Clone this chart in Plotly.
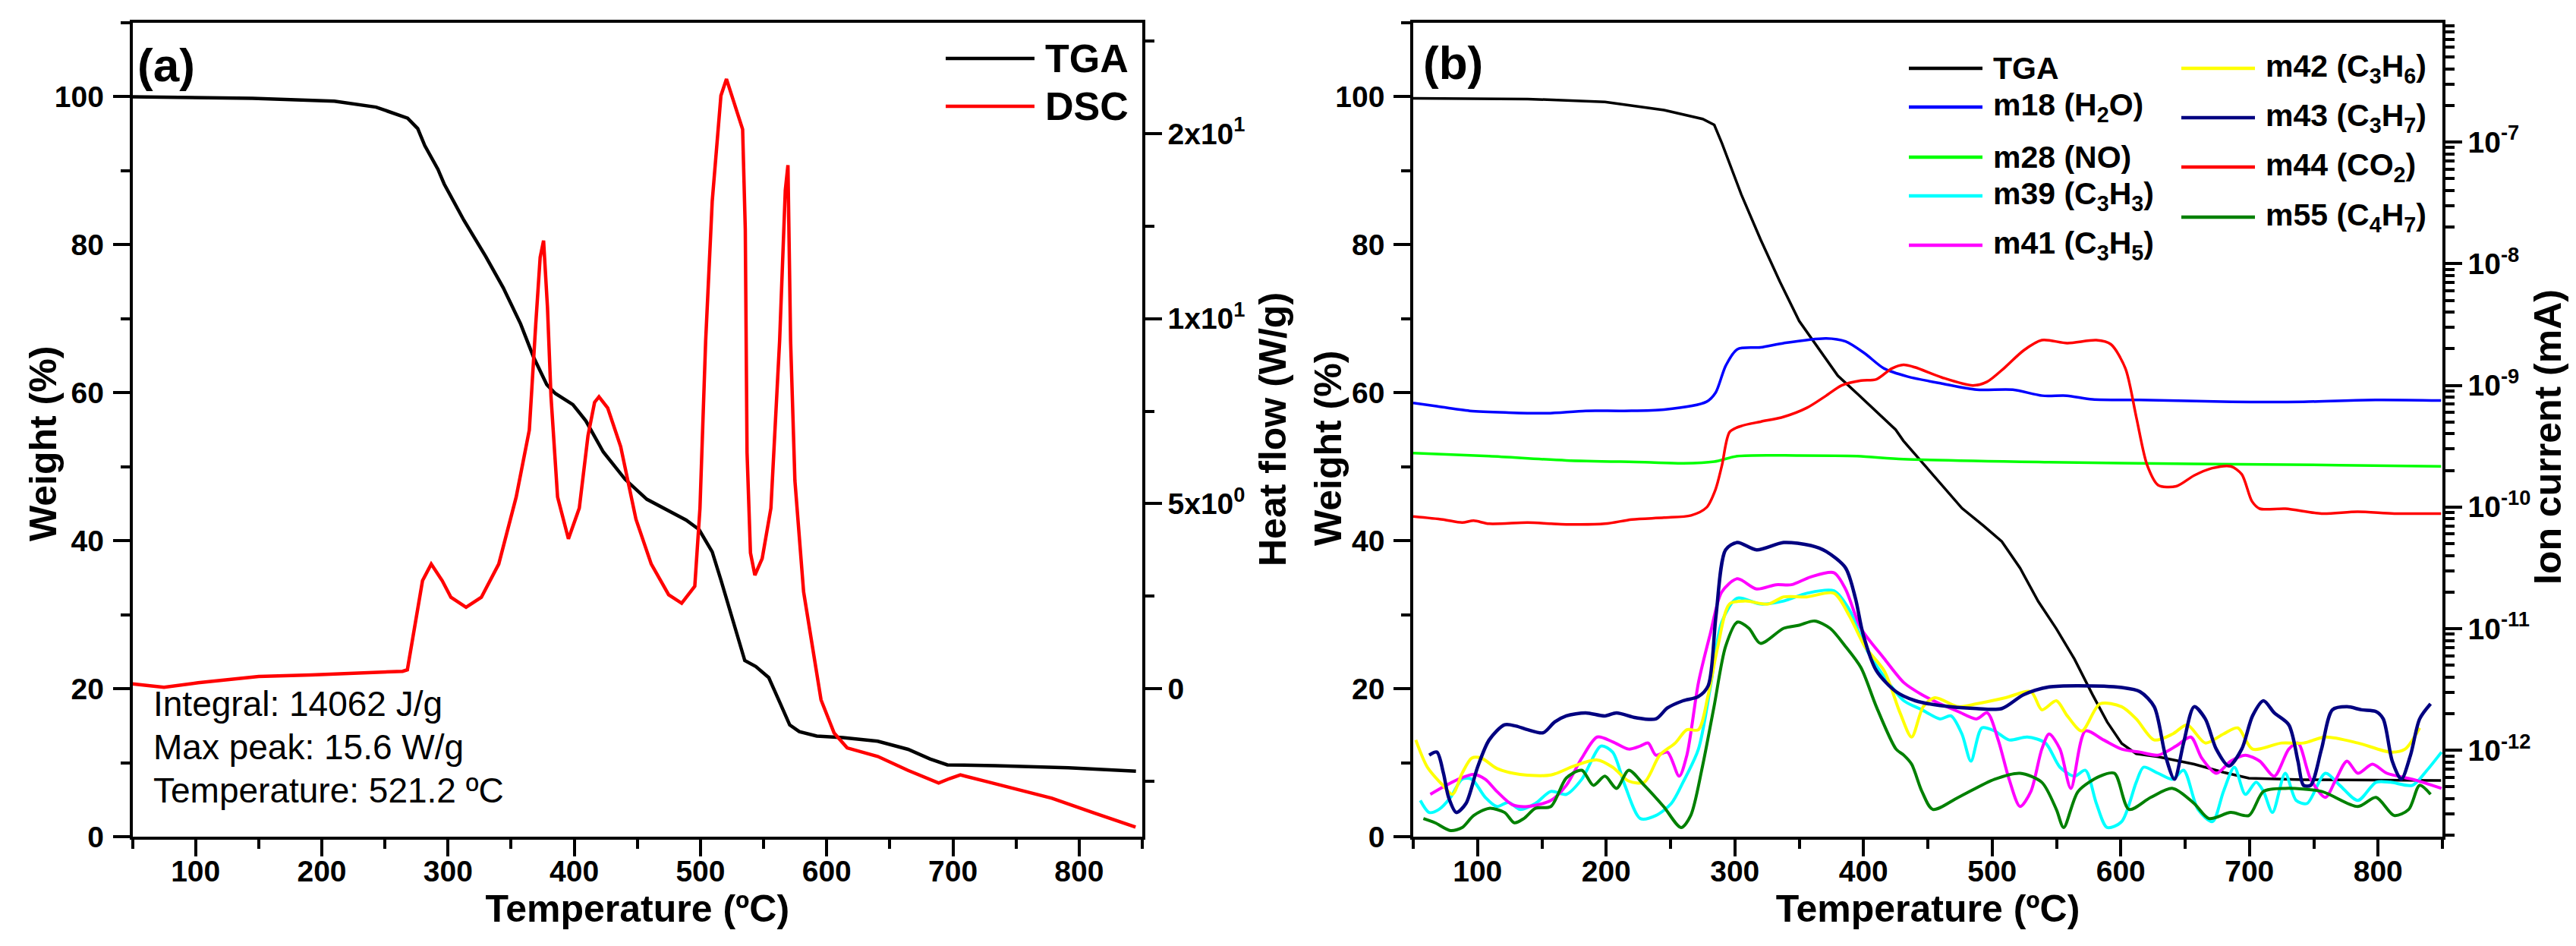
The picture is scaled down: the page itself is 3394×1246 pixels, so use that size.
import plotly.graph_objects as go

W, H = 3394, 1246
FONT = "Liberation Sans, Arial, sans-serif"

# ---------------- panel (a): TGA / DSC ----------------
tga_a_temp = [50, 145, 210, 243, 268, 276, 281.6, 292, 297, 312.6,
              329.9, 343.7, 357.5, 367.8, 378.2, 385, 398.9, 409.2, 423, 440.3,
              457.5, 474.8, 488.6, 498.9, 509.3, 516.2, 526.5, 535.1, 543.8, 554.1,
              562.7, 570.7, 578.3, 592.1, 612.8, 640.4, 664.5, 681.8, 695.6, 733.5,
              791.5, 845]
tga_a_weight = [100.0, 99.8, 99.4, 98.6, 97.1, 95.7, 93.4, 90.2, 88.2, 83.3,
                78.4, 74.2, 69.3, 64.8, 61.1, 59.9, 58.4, 56.2, 52.0, 48.3,
                45.6, 44.1, 42.8, 41.5, 38.5, 34.7, 28.7, 23.8, 23.0, 21.5,
                18.2, 15.1, 14.2, 13.6, 13.4, 12.9, 11.8, 10.5, 9.7, 9.6,
                9.3, 8.86]

dsc_temp = [50, 75, 102, 150, 191.5, 243, 264, 267.8, 274.7, 279.8,
            286.7, 295.4, 302.3, 314.3, 326.4, 340.2, 354, 364.4, 369.5, 373,
            375.7, 378.8, 381.6, 386.8, 395.4, 404, 410.9, 416.1, 419.6, 426.5,
            436.8, 448.9, 461, 474.8, 485.1, 495.5, 499.6, 504.1, 509.3, 516.2,
            520.6, 526.5, 533.4, 535.5, 536.9, 539.6, 543.1, 548.9, 555.8, 562.7,
            567.2, 569.3, 571.4, 574.8, 581.7, 595.5, 605.9, 616.2, 640.4, 664.5,
            688.7, 697.3, 705.9, 726.6, 750.8, 778.4, 812, 844.7]
dsc_heat = [0.13, 0.04, 0.16, 0.33, 0.37, 0.43, 0.47, 0.51, 1.86, 2.92,
            3.37, 2.92, 2.47, 2.20, 2.47, 3.37, 5.18, 6.99, 9.85, 11.66,
            12.11, 10.30, 7.89, 5.18, 4.05, 4.88, 6.84, 7.74, 7.89, 7.59,
            6.54, 4.58, 3.37, 2.54, 2.31, 2.77, 4.88, 9.40, 13.17, 16.03,
            16.48, 15.88, 15.12, 12.41, 6.38, 3.67, 3.07, 3.52, 4.88, 9.40,
            13.47, 14.15, 9.40, 5.63, 2.62, -0.30, -1.20, -1.60, -1.83, -2.21,
            -2.55, -2.43, -2.33, -2.51, -2.73, -2.96, -3.36, -3.74]

dsc_notes = ["Integral: 14062 J/g", "Max peak: 15.6 W/g", "Temperature: 521.2 ºC"]

# ---------------- panel (b): TGA + MS ion currents ----------------
tga_b_temp = [50, 139, 199, 245, 275, 284, 290, 305, 320, 335,
              350, 365, 380, 395, 410, 425, 431, 448, 459.5, 476.5,
              493.4, 507.5, 521.7, 535.8, 549.9, 564, 578, 589.4, 600.7, 612,
              629, 657, 679.8, 699.6, 742, 849]
tga_b_weight = [99.8, 99.7, 99.3, 98.2, 97.0, 96.2, 93.7, 86.8, 80.7, 75.0,
                69.7, 66.0, 62.3, 59.9, 57.5, 55.0, 53.5, 50.1, 47.7, 44.4,
                42.0, 39.9, 36.3, 31.8, 28.1, 24.0, 19.2, 15.5, 12.6, 11.2,
                10.8, 9.8, 8.7, 7.9, 7.7, 7.6]

# ion currents, stored as log10 of the current in mA
m18_temp = [50, 67, 94, 124, 154, 184, 214, 245, 278, 285, 293, 302, 320, 338, 371,
            386, 401, 416, 434, 461, 488, 516, 539, 558, 578, 615, 686, 742, 798, 849]
m18_log = [-9.145, -9.170, -9.210, -9.224, -9.229, -9.210, -9.210, -9.200, -9.135, -9.061,
           -8.837, -8.703, -8.688, -8.653, -8.614, -8.639, -8.738, -8.862, -8.927, -8.986,
           -9.036, -9.036, -9.085, -9.085, -9.115, -9.120, -9.135, -9.135, -9.120, -9.125]

m28_temp = [50, 109, 169, 230, 260, 284, 302, 350, 395, 431, 544, 657, 770, 849]
m28_log = [-9.557, -9.582, -9.617, -9.632, -9.641, -9.627, -9.582, -9.577, -9.582, -9.607,
           -9.632, -9.646, -9.656, -9.666]

m39_temp = [55.5, 62.4, 70, 79, 88, 95.5, 106, 115, 124, 133,
            145, 157, 169, 181, 196, 205, 214.5, 226.5, 238.6, 250.6,
            259.7, 271.7, 280.8, 289.8, 301.9, 319.9, 338, 356, 377, 389.2,
            401, 416, 431.4, 445.4, 459.5, 468, 476.5, 483.5, 492, 501.9,
            513.2, 527.3, 541.4, 552.7, 564, 572.5, 581, 589.4, 600.7, 612,
            617.7, 629, 640.3, 648.8, 660, 671.3, 679.8, 688.3, 696.8, 705.2,
            710.9, 717.9, 727.8, 736.3, 744.8, 759, 770.2, 784.3, 798.4, 809.7,
            826.7, 838, 849.3]
m39_log = [-12.412, -12.511, -12.486, -12.387, -12.238, -12.238, -12.387, -12.462, -12.427, -12.486,
           -12.437, -12.338, -12.362, -12.238, -11.965, -12.015, -12.288, -12.561, -12.536, -12.437,
           -12.263, -11.990, -11.493, -10.947, -10.749, -10.798, -10.773, -10.709, -10.689, -10.848,
           -11.146, -11.394, -11.593, -11.667, -11.742, -11.717, -11.866, -12.089, -11.816, -11.841,
           -11.915, -11.891, -11.940, -12.139, -12.213, -12.164, -12.437, -12.635, -12.586, -12.263,
           -12.139, -12.189, -12.238, -12.164, -12.486, -12.586, -12.338, -12.139, -12.362, -12.263,
           -12.338, -12.511, -12.189, -12.412, -12.437, -12.189, -12.288, -12.412, -12.263, -12.263,
           -12.288, -12.164, -12.015]

m41_temp = [63.3, 73, 85, 97, 106, 115, 127, 139, 157, 169,
            181, 193, 205, 217.5, 226.5, 232.6, 238.6, 247.6, 256.7, 262.7,
            271.7, 280.8, 289.8, 301.9, 316.9, 332, 344, 359, 377, 386,
            398, 416, 431.4, 445.4, 459.5, 473.7, 487.8, 496.2, 504.7, 513.2,
            521.7, 530.1, 538.6, 544.3, 552.7, 561.2, 572.5, 586.6, 600.7, 614.9,
            629, 643.1, 654.4, 662.9, 674.2, 685.5, 696.8, 708, 719.3, 730.6,
            737.7, 747.6, 759, 767.3, 775.8, 784.3, 795.6, 806.9, 826.7, 849.3]
m41_log = [-12.362, -12.303, -12.238, -12.198, -12.238, -12.338, -12.447, -12.462, -12.412, -12.288,
           -12.064, -11.891, -11.930, -11.990, -11.965, -11.940, -12.040, -12.015, -12.213, -12.040,
           -11.444, -11.047, -10.699, -10.590, -10.674, -10.639, -10.639, -10.575, -10.540, -10.674,
           -10.997, -11.245, -11.444, -11.543, -11.618, -11.682, -11.742, -11.692, -11.915, -12.238,
           -12.462, -12.338, -11.990, -11.866, -11.990, -12.313, -11.841, -11.915, -11.990, -12.015,
           -12.040, -11.965, -11.891, -12.064, -12.189, -12.089, -12.040, -12.089, -12.213, -11.990,
           -11.940, -12.238, -12.387, -12.238, -12.089, -12.189, -12.114, -12.189, -12.238, -12.313]

m42_temp = [52, 61, 73, 80.5, 88, 95.5, 103, 115, 133, 157,
            175, 193, 205, 217.5, 229.6, 241.6, 253.7, 262.7, 271.7, 279.3,
            286.8, 295.8, 307.9, 325.9, 338, 356, 377, 389.2, 401, 416,
            428.4, 437.4, 446.4, 455.5, 473.7, 487.8, 510.4, 530.1, 538.6, 549.9,
            558.4, 569.7, 583.8, 600.7, 612, 626, 640.3, 651.6, 665.7, 679.8,
            691, 702.4, 725, 742, 759, 784.3, 809.7, 821, 832.3]
m42_log = [-11.915, -12.139, -12.288, -12.362, -12.189, -12.064, -12.064, -12.149, -12.198, -12.203,
           -12.129, -12.079, -12.139, -12.253, -12.263, -12.040, -11.940, -11.831, -11.831, -11.543,
           -11.146, -10.798, -10.773, -10.798, -10.739, -10.739, -10.709, -10.898, -11.146, -11.345,
           -11.692, -11.891, -11.642, -11.568, -11.642, -11.618, -11.568, -11.518, -11.667, -11.593,
           -11.717, -11.841, -11.618, -11.642, -11.742, -11.915, -11.866, -11.791, -11.940, -11.866,
           -11.816, -11.990, -11.940, -11.940, -11.891, -11.940, -12.015, -11.990, -11.816]

m43_temp = [62.4, 68.4, 73.5, 77.5, 83.5, 91, 100, 109, 121, 130,
            139, 151, 160, 169, 184, 199, 208, 223, 238.6, 247.6,
            259.7, 271.7, 279.3, 285.3, 292.8, 301.9, 316.9, 338, 359, 371,
            386, 393.7, 399.7, 410, 425.3, 440.4, 459.5, 487.8, 507.5, 524.5,
            544.3, 566.8, 600.7, 614.9, 626, 634.6, 641.7, 648.8, 657, 665.7,
            674.2, 684, 694, 702.4, 710.9, 719.3, 730.6, 737.7, 742, 747.6,
            756, 764.5, 775.8, 787.1, 798.4, 804, 811, 818, 825.2, 832.3,
            840.8]
m43_log = [-12.040, -12.015, -12.189, -12.387, -12.511, -12.437, -12.139, -11.915, -11.791, -11.801,
           -11.831, -11.856, -11.767, -11.717, -11.692, -11.717, -11.692, -11.732, -11.742, -11.652,
           -11.593, -11.558, -11.469, -10.898, -10.352, -10.292, -10.352, -10.292, -10.317, -10.366,
           -10.500, -10.749, -11.047, -11.345, -11.518, -11.593, -11.632, -11.657, -11.657, -11.543,
           -11.479, -11.469, -11.484, -11.518, -11.642, -12.040, -12.238, -11.940, -11.642, -11.742,
           -11.990, -12.129, -11.990, -11.717, -11.593, -11.692, -11.791, -12.089, -12.288, -12.288,
           -11.990, -11.667, -11.642, -11.667, -11.682, -11.742, -12.089, -12.238, -12.040, -11.742,
           -11.618]

m44_temp = [50, 73, 88, 97, 109, 139, 157, 169, 199, 220,
            245, 266, 278, 285, 290, 296, 305, 320, 338, 356,
            371, 383, 398, 410, 422, 431, 440, 461, 485, 496,
            510, 524.5, 538.6, 558.4, 581, 592.3, 603.6, 612, 620.5, 629,
            643, 657, 671, 685.5, 694, 702, 708, 728, 756, 784,
            812.5, 849]
m44_log = [-10.078, -10.103, -10.128, -10.113, -10.138, -10.128, -10.138, -10.143, -10.138, -10.103,
           -10.088, -10.069, -10.004, -9.855, -9.656, -9.383, -9.334, -9.299, -9.259, -9.185,
           -9.085, -9.001, -8.961, -8.951, -8.862, -8.832, -8.852, -8.936, -9.001, -8.971,
           -8.852, -8.713, -8.629, -8.653, -8.629, -8.663, -8.862, -9.259, -9.656, -9.820,
           -9.830, -9.741, -9.681, -9.666, -9.731, -9.954, -10.014, -10.014, -10.054, -10.039,
           -10.054, -10.054]

m55_temp = [57.9, 67, 79, 88, 97, 109, 121, 128.6, 136, 145,
            157, 169, 181, 190, 199, 208, 217.5, 229.6, 244.6, 258.2,
            265.7, 274.7, 283.8, 292.8, 301.9, 310.9, 319.9, 338, 350, 362,
            374, 386, 398, 410, 425.3, 431.3, 437.4, 445.4, 453.9, 473.7,
            501.9, 521.7, 538.6, 549.9, 555.6, 566.8, 583.8, 595.1, 606.4, 623.3,
            640.3, 657, 668.5, 685.5, 699.6, 710.9, 727.8, 756, 784.3, 798.4,
            812.5, 823.8, 832.3, 840.8]
m55_log = [-12.561, -12.596, -12.660, -12.635, -12.536, -12.477, -12.511, -12.596, -12.561, -12.477,
           -12.462, -12.228, -12.164, -12.288, -12.213, -12.313, -12.164, -12.288, -12.462, -12.635,
           -12.536, -12.139, -11.642, -11.146, -10.947, -10.997, -11.121, -10.997, -10.972, -10.937,
           -10.997, -11.146, -11.320, -11.642, -11.990, -12.040, -12.114, -12.338, -12.486, -12.387,
           -12.238, -12.189, -12.263, -12.486, -12.635, -12.338, -12.213, -12.189, -12.486, -12.387,
           -12.313, -12.437, -12.561, -12.511, -12.536, -12.338, -12.313, -12.338, -12.462, -12.387,
           -12.536, -12.486, -12.288, -12.362]

# (name, temps, log10 current, colour, width), in legend order
ion_series = [
    ("m18 (H<sub>2</sub>O)", m18_temp, m18_log, "#0000FF", 3.5),
    ("m28 (NO)", m28_temp, m28_log, "#00FF00", 3.5),
    ("m39 (C<sub>3</sub>H<sub>3</sub>)", m39_temp, m39_log, "#00FFFF", 4),
    ("m41 (C<sub>3</sub>H<sub>5</sub>)", m41_temp, m41_log, "#FF00FF", 4),
    ("m42 (C<sub>3</sub>H<sub>6</sub>)", m42_temp, m42_log, "#FFFF00", 4),
    ("m43 (C<sub>3</sub>H<sub>7</sub>)", m43_temp, m43_log, "#000080", 4.5),
    ("m44 (CO<sub>2</sub>)", m44_temp, m44_log, "#FF0000", 3.5),
    ("m55 (C<sub>4</sub>H<sub>7</sub>)", m55_temp, m55_log, "#008000", 4),
]

heat_ticks = [0, 5, 10, 15]
heat_labels = ["0", "5x10<sup>0</sup>", "1x10<sup>1</sup>", "2x10<sup>1</sup>"]
ion_ticks = [1e-12, 1e-11, 1e-10, 1e-9, 1e-8, 1e-7]
ion_labels = ["10<sup>-12</sup>", "10<sup>-11</sup>", "10<sup>-10</sup>",
              "10<sup>-9</sup>", "10<sup>-8</sup>", "10<sup>-7</sup>"]


def px(x):
    return x / W


def py(y):
    return 1 - y / H


fig = go.Figure()

# panel (a)
fig.add_trace(go.Scatter(x=tga_a_temp, y=tga_a_weight, mode="lines", name="TGA",
                         line=dict(color="black", width=4.5), xaxis="x", yaxis="y"))
fig.add_trace(go.Scatter(x=dsc_temp, y=dsc_heat, mode="lines", name="DSC",
                         line=dict(color="#FF0000", width=4.5), xaxis="x", yaxis="y2"))

# panel (b)
fig.add_trace(go.Scatter(x=tga_b_temp, y=tga_b_weight, mode="lines", name="TGA",
                         line=dict(color="black", width=3.5), xaxis="x2", yaxis="y3"))
for name, t, lg, col, wd in ion_series:
    fig.add_trace(go.Scatter(x=t, y=[10 ** v for v in lg], mode="lines", name=name,
                             line=dict(color=col, width=wd, shape="spline", smoothing=0.8),
                             xaxis="x2", yaxis="y4"))

fig.update_traces(showlegend=False)

tickfont = dict(family=FONT, size=39, color="black", weight="bold")
titlefont = dict(family=FONT, size=50, color="black", weight="bold")
minor = dict(ticks="outside", ticklen=12, tickwidth=3.5, tickcolor="black", showgrid=False)
base = dict(showline=True, linewidth=3.5, linecolor="black", ticks="outside",
            ticklen=22, tickwidth=3.5, tickcolor="black", showgrid=False,
            zeroline=False, tickfont=tickfont, automargin=False, ticklabelstandoff=4)

xa = [px(166.5), px(1497)]
xb = [px(1854), px(3210)]
ydom = [py(1094), py(22)]

xaxis_t = dict(base, range=[50, 850], tickmode="linear", tick0=0, dtick=100, mirror=True,
               ticklabelstandoff=-14,
               minor=dict(minor, tickmode="linear", tick0=50, dtick=100),
               title=dict(text="Temperature (ºC)", font=titlefont, standoff=8))
weight_ax = dict(base, range=[0, 110], tickmode="linear", tick0=0, dtick=20,
                 minor=dict(minor, tickmode="linear", tick0=0, dtick=10))

fig.update_layout(
    width=W, height=H,
    margin=dict(l=0, r=0, t=0, b=0),
    paper_bgcolor="white", plot_bgcolor="white",
    showlegend=False,
    xaxis=dict(xaxis_t, domain=xa, anchor="y"),
    yaxis=dict(weight_ax, domain=ydom, anchor="x"),
    yaxis2=dict(base, overlaying="y", side="right", anchor="x", range=[-4.0, 18.0],
                ticklabelstandoff=0,
                tickmode="array", tickvals=heat_ticks, ticktext=heat_labels,
                minor=dict(minor, tickmode="array", tickvals=[-2.5, 2.5, 7.5, 12.5, 17.5])),
    xaxis2=dict(xaxis_t, domain=xb, anchor="y3"),
    yaxis3=dict(weight_ax, domain=ydom, anchor="x2"),
    yaxis4=dict(base, overlaying="y3", side="right", anchor="x2", type="log",
                ticklabelstandoff=0,
                range=[-12.71, -6.02], tickmode="array", tickvals=ion_ticks, ticktext=ion_labels,
                minor=dict(minor, tickmode="array",
                           tickvals=[k * 10.0 ** e for e in range(-13, -5) for k in range(2, 10)])),
)


def note(x, y, text, size, bold=True, angle=0, xanchor="center"):
    font = dict(family=FONT, size=size, color="black")
    if bold:
        font["weight"] = "bold"
    fig.add_annotation(x=px(x), y=py(y), xref="paper", yref="paper", text=text,
                       showarrow=False, textangle=angle, xanchor=xanchor,
                       yanchor="middle", font=font)


# y-axis titles
note(49, 577, "Weight (%)", 50, angle=-90)
note(1669, 558, "Heat flow (W/g)", 50, angle=-90)
note(1742, 582, "Weight (%)", 50, angle=-90)
note(3349, 568, "Ion current (mA)", 50, angle=-90)

# panel letters
note(211, 77, "(a)", 62)
note(1907, 74, "(b)", 62)

# DSC notes
for i, txt in enumerate(dsc_notes):
    note(192, 919 + 57 * i, txt, 46, bold=False, xanchor="left")


def legend_item(x0, x1, y, label, color, size):
    fig.add_shape(type="line", xref="paper", yref="paper", x0=px(x0), x1=px(x1),
                  y0=py(y), y1=py(y), line=dict(color=color, width=4.5))
    note(x1 + 12, y, label, size, xanchor="left")


# legend panel (a)
legend_item(1238, 1355, 69, "TGA", "black", 52)
legend_item(1238, 1355, 132, "DSC", "#FF0000", 52)

# legend panel (b)
col1 = [("TGA", "black", 82)] + [(n, c, y) for (n, _, _, c, _), y in
                                 zip(ion_series[:4], [133, 199, 250, 315])]
col2 = [(n, c, y) for (n, _, _, c, _), y in zip(ion_series[4:], [82, 147, 212, 278])]
for label, color, y in col1:
    legend_item(2507, 2604, y, label, color, 41)
for label, color, y in col2:
    legend_item(2866, 2963, y, label, color, 41)

fig.write_html("out.html")
